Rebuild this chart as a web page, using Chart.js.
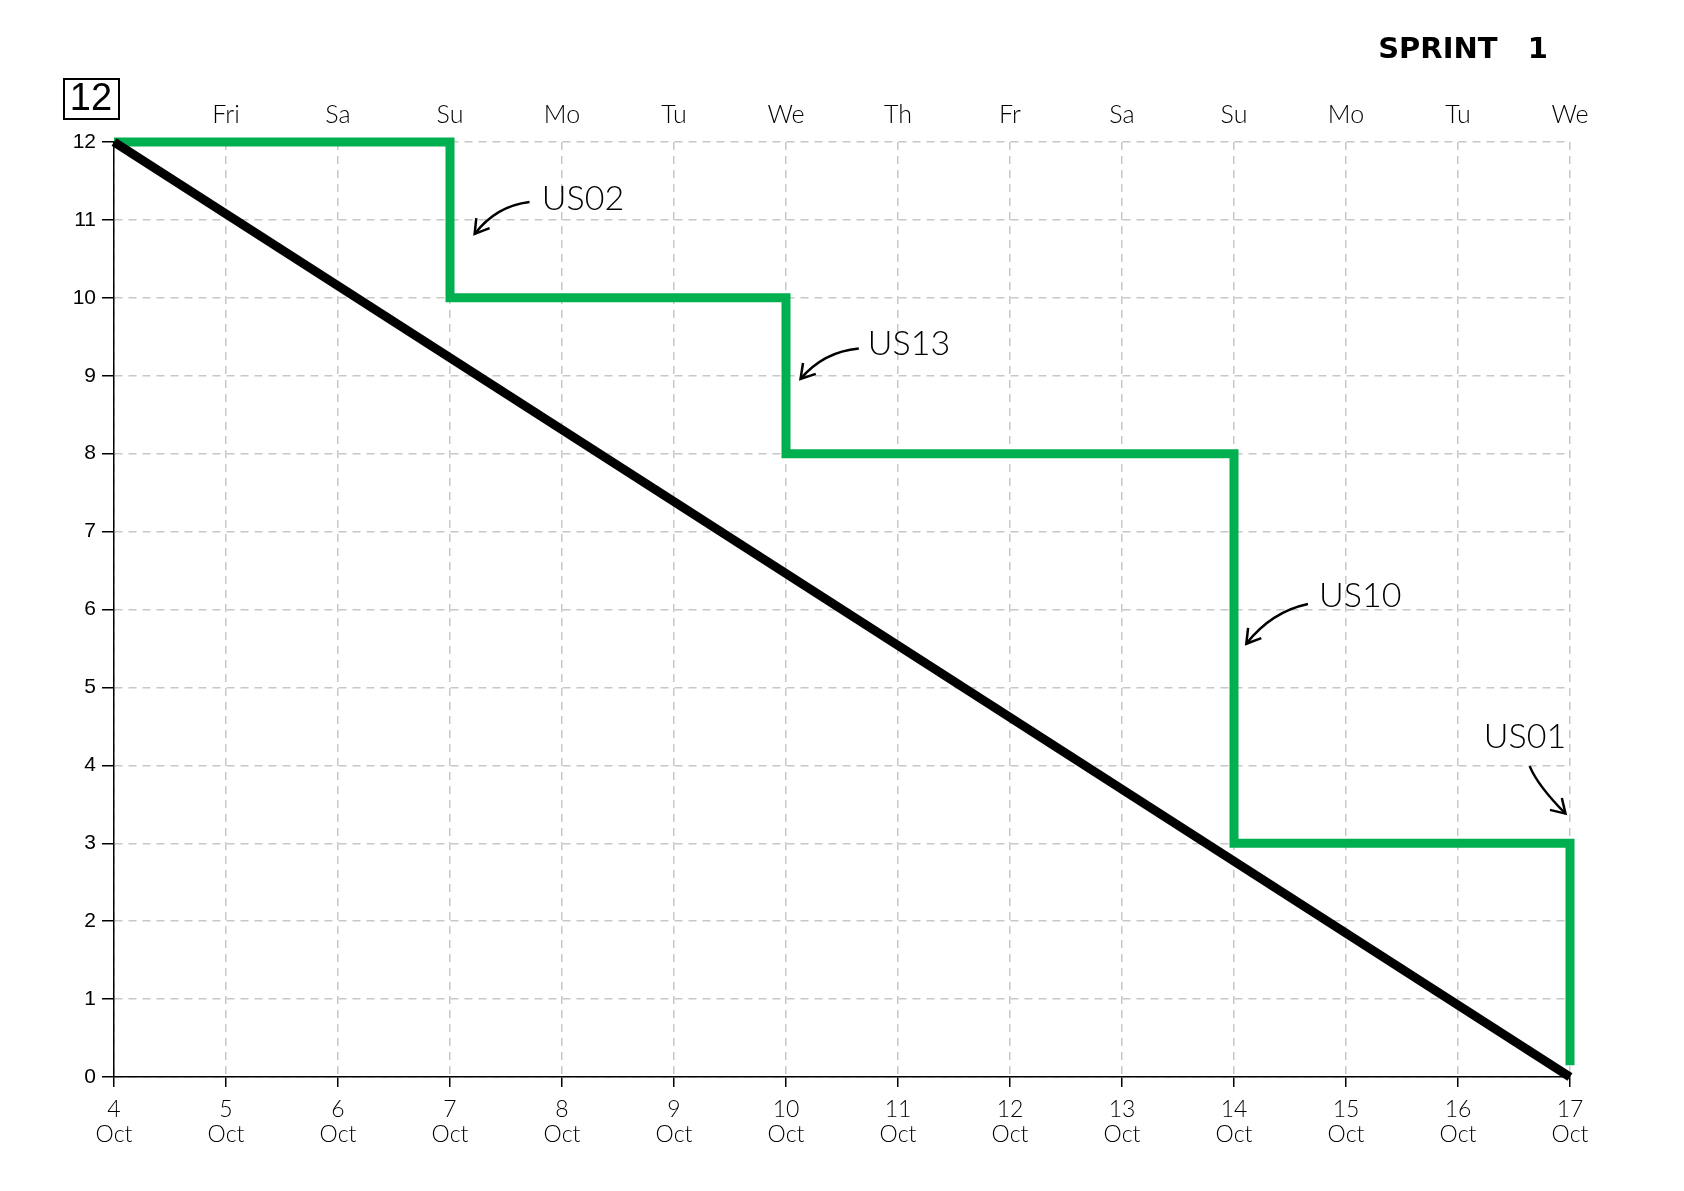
<!DOCTYPE html>
<html lang="en">
<head>
<meta charset="utf-8">
<title>Sprint 1 burndown</title>
<script src="https://cdn.jsdelivr.net/npm/chart.js@4.4.0/dist/chart.umd.min.js"></script>
<style>
  html, body { margin: 0; padding: 0; background: #fff; }
  canvas { display: block; }
</style>
</head>
<body>
<canvas id="burndown" width="1684" height="1191"></canvas>
<script>
// sprint days (October)
const days = [4, 5, 6, 7, 8, 9, 10, 11, 12, 13, 14, 15, 16, 17];
const weekdays = ['Th', 'Fri', 'Sa', 'Su', 'Mo', 'Tu', 'We', 'Th', 'Fr', 'Sa', 'Su', 'Mo', 'Tu', 'We'];
const monthLabel = 'Oct';
const totalPoints = 12;

// ideal burndown
const idealDays = [4, 17];
const idealRemaining = [12, 0];

// actual: day a story was closed, points remaining after it
const doneDays = [4, 7, 10, 14, 17];
const doneRemaining = [12, 10, 8, 3, 0.15];

// story labels, anchored in data units
const stories = ['US02', 'US13', 'US10', 'US01'];
const storyText = [[7.82, 11.27], [10.73, 9.41], [14.76, 6.17], [16.23, 4.36]];
const storyArrowFrom = [[7.71, 11.23], [10.65, 9.35], [14.66, 6.07], [16.64, 3.99]];
const storyArrowTo = [[7.22, 10.82], [10.13, 8.96], [14.11, 5.56], [16.96, 3.38]];

const hand = '"Lato", "DejaVu Sans", sans-serif';

const extras = {
  id: 'extras',
  afterDatasetsDraw(chart) {
    const { ctx, chartArea } = chart;
    const x = chart.scales.x, y = chart.scales.y;
    ctx.save();
    // title
    ctx.fillStyle = '#000';
    ctx.font = 'bold 29px "DejaVu Sans", sans-serif';
    ctx.textAlign = 'right';
    ctx.textBaseline = 'middle';
    ctx.fillText('SPRINT   1', chartArea.right - 22, 50);

    // boxed total
    ctx.font = '38px "Liberation Sans", sans-serif';
    ctx.textAlign = 'center';
    ctx.fillText(String(totalPoints), 91, 100);
    ctx.lineWidth = 2;
    ctx.strokeRect(64, 79, 55, 40);

    // story labels + arrows
    ctx.font = '300 34px ' + hand;
    ctx.textAlign = 'left';
    ctx.lineWidth = 2.5;
    ctx.strokeStyle = '#000';
    stories.forEach((s, i) => {
      ctx.fillText(s, x.getPixelForValue(storyText[i][0]), y.getPixelForValue(storyText[i][1]));
      const x0 = x.getPixelForValue(storyArrowFrom[i][0]), y0 = y.getPixelForValue(storyArrowFrom[i][1]);
      const x1 = x.getPixelForValue(storyArrowTo[i][0]), y1 = y.getPixelForValue(storyArrowTo[i][1]);
      const down = i === 3;
      const cx = down ? x0 + 8 : (x0 + x1) / 2 - 6;
      const cy = down ? y1 - 28 : (y0 + y1) / 2 - 12;
      ctx.beginPath();
      ctx.moveTo(x0, y0);
      ctx.quadraticCurveTo(cx, cy, x1, y1);
      ctx.stroke();
      const a = Math.atan2(y1 - cy, x1 - cx);
      ctx.beginPath();
      ctx.moveTo(x1 + 16 * Math.cos(a + Math.PI - 0.55), y1 + 16 * Math.sin(a + Math.PI - 0.55));
      ctx.lineTo(x1, y1);
      ctx.lineTo(x1 + 16 * Math.cos(a + Math.PI + 0.55), y1 + 16 * Math.sin(a + Math.PI + 0.55));
      ctx.stroke();
    });
    ctx.restore();
  }
};

const gridDash = { color: '#c8c8c8', lineWidth: 1.5, tickColor: '#000', tickLength: 12, tickBorderDash: [] };

new Chart(document.getElementById('burndown'), {
  type: 'line',
  data: {
    datasets: [
      {
        label: 'Ideal',
        data: idealDays.map((d, i) => ({ x: d, y: idealRemaining[i] })),
        borderColor: '#000',
        borderWidth: 9,
        borderCapStyle: 'butt',
        pointRadius: 0,
        clip: false
      },
      {
        label: 'Actual',
        data: doneDays.map((d, i) => ({ x: d, y: doneRemaining[i] })),
        borderColor: '#00b050',
        borderWidth: 9,
        borderJoinStyle: 'miter',
        borderCapStyle: 'butt',
        stepped: 'before',
        pointRadius: 0,
        clip: false
      }
    ]
  },
  options: {
    responsive: false,
    animation: false,
    layout: { padding: { left: 0, right: 114, top: 0, bottom: 0 } },
    plugins: { legend: { display: false }, tooltip: { enabled: false } },
    scales: {
      x: {
        type: 'linear',
        min: days[0],
        max: days[days.length - 1],
        afterFit: s => { s.height = 114; },
        afterBuildTicks: s => { s.ticks = days.map(v => ({ value: v })); },
        border: { color: '#000', width: 1.5, dash: [8, 6] },
        grid: Object.assign({}, gridDash, { tickLength: 10 }),
        ticks: {
          color: '#000',
          padding: 10,
          font: { family: hand, size: 23, weight: 300, lineHeight: 1.1 },
          callback: v => [String(v), monthLabel]
        }
      },
      x2: {
        type: 'linear',
        position: 'top',
        min: days[0],
        max: days[days.length - 1],
        afterFit: s => { s.height = 142; },
        afterBuildTicks: s => { s.ticks = days.slice(1).map(v => ({ value: v })); },
        border: { display: false },
        grid: { display: false },
        ticks: {
          color: '#000',
          padding: 4,
          font: { family: hand, size: 25, weight: 300 },
          callback: v => weekdays[days.indexOf(v)]
        }
      },
      y: {
        min: 0,
        max: totalPoints,
        afterFit: s => { s.width = 114; },
        border: { color: '#000', width: 1.5, dash: [8, 6] },
        grid: gridDash,
        ticks: {
          stepSize: 1,
          color: '#000',
          padding: 6,
          font: { family: '"Liberation Sans", sans-serif', size: 21 }
        }
      }
    }
  },
  plugins: [extras]
});
</script>
</body>
</html>
